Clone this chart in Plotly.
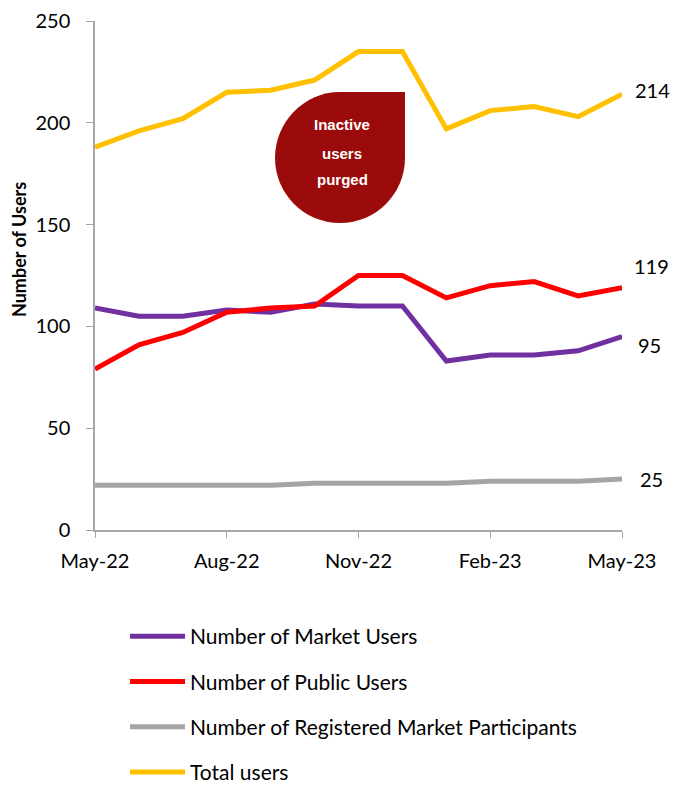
import plotly.graph_objects as go

months = ["May-22", "Jun-22", "Jul-22", "Aug-22", "Sep-22", "Oct-22", "Nov-22",
          "Dec-22", "Jan-23", "Feb-23", "Mar-23", "Apr-23", "May-23"]
tick_labels = ["May-22", "Aug-22", "Nov-22", "Feb-23", "May-23"]

market_users = [109, 105, 105, 108, 107, 111, 110, 110, 83, 86, 86, 88, 95]
public_users = [79, 91, 97, 107, 109, 110, 125, 125, 114, 120, 122, 115, 119]
registered_participants = [22, 22, 22, 22, 22, 23, 23, 23, 23, 24, 24, 24, 25]
total_users = [188, 196, 202, 215, 216, 221, 235, 235, 197, 206, 208, 203, 214]

series_names = ["Number of Market Users", "Number of Public Users",
                "Number of Registered Market Participants", "Total users"]
series_values = [market_users, public_users, registered_participants, total_users]
series_colors = ["#7030A0", "#FF0000", "#A5A5A5", "#FFC000"]
label_xshift = [14, 10, 16, 11]
label_yshift = [-8, 22, 0, 4]

FONT = "Lato, Carlito, Calibri, sans-serif"

# page has an 8px body margin; work in screen pixels and convert
OFF = 8
W, H = 678 - 2 * OFF, 796 - 2 * OFF
PL, PR, PT, PB = 95, 622, 21, 530  # plot area in screen pixels
L = PL - OFF
R = W - (PR - OFF)
T = PT - OFF
B = H - (PB - OFF)


def px(xs):
    return (xs - PL) / (PR - PL)


def py(ys):
    return (PB - ys) / (PB - PT)


fig = go.Figure()
for i, (name, vals, col) in enumerate(zip(series_names, series_values, series_colors)):
    fig.add_trace(go.Scatter(
        x=months, y=vals, mode="lines", name=name,
        line=dict(color=col, width=5), legendgroup=f"g{i}",
    ))
    fig.add_annotation(
        x=months[-1], y=vals[-1], text=str(vals[-1]), showarrow=False,
        xanchor="left", yanchor="middle", xshift=label_xshift[i], yshift=label_yshift[i],
        font=dict(family=FONT, size=20, color="#000000"),
    )

# teardrop bubble
cx, cy, r = 340, 158, 65
k = 0.5523 * r
top, right = 92, cx + r
pts = [
    ("M", [(right, top)]),
    ("L", [(cx, top)]),
    ("C", [(cx - k, top), (cx - r, cy - k), (cx - r, cy)]),
    ("C", [(cx - r, cy + k), (cx - k, cy + r), (cx, cy + r)]),
    ("C", [(cx + k, cy + r), (right, cy + k), (right, cy)]),
    ("L", [(right, top)]),
]
path = ""
for cmd, plist in pts:
    path += cmd + " " + " ".join(f"{px(a):.5f},{py(b):.5f}" for a, b in plist) + " "
path += "Z"
fig.add_shape(type="path", path=path, xref="paper", yref="paper",
              fillcolor="#9C0B0B", line=dict(width=0), layer="above")
for txt, ys in zip(["Inactive", "users", "purged"], [125, 153, 180]):
    fig.add_annotation(
        x=px(342), y=py(ys), xref="paper", yref="paper", showarrow=False,
        text=f"<b>{txt}</b>", xanchor="center", yanchor="middle",
        font=dict(family="Liberation Sans, Arial, sans-serif", size=15, color="white"),
    )

# y-axis title as annotation
fig.add_annotation(
    x=px(19), y=py(250), xref="paper", yref="paper", showarrow=False,
    text="<b>Number of Users</b>", textangle=-90, xanchor="center", yanchor="middle",
    font=dict(family=FONT, size=18, color="#000000"),
)

fig.update_layout(
    width=W, height=H,
    margin=dict(l=L, r=R, t=T, b=B, autoexpand=False),
    paper_bgcolor="white", plot_bgcolor="white",
    font=dict(family=FONT, size=20, color="#000000"),
    showlegend=True,
    legend=dict(
        x=px(125), y=py(616), xanchor="left", yanchor="top",
        orientation="v", tracegroupgap=15,
        font=dict(family=FONT, size=21, color="#000000"),
        bgcolor="rgba(0,0,0,0)", itemwidth=55,
    ),
    xaxis=dict(
        type="category", range=[0, 12],
        tickmode="array", tickvals=tick_labels, ticktext=tick_labels,
        showline=True, linecolor="#A6A6A6", linewidth=1.5,
        ticks="outside", ticklen=6, tickcolor="#A6A6A6",
        showgrid=False, zeroline=False, ticklabelstandoff=6,
        tickfont=dict(family=FONT, size=20, color="#000000"),
    ),
    yaxis=dict(
        range=[0, 250], dtick=50,
        showline=True, linecolor="#A6A6A6", linewidth=1.5,
        ticks="outside", ticklen=7, tickcolor="#A6A6A6",
        showgrid=False, zeroline=False, ticklabelstandoff=12,
        tickfont=dict(family=FONT, size=20, color="#000000"),
    ),
)

fig.write_html("out.html")
